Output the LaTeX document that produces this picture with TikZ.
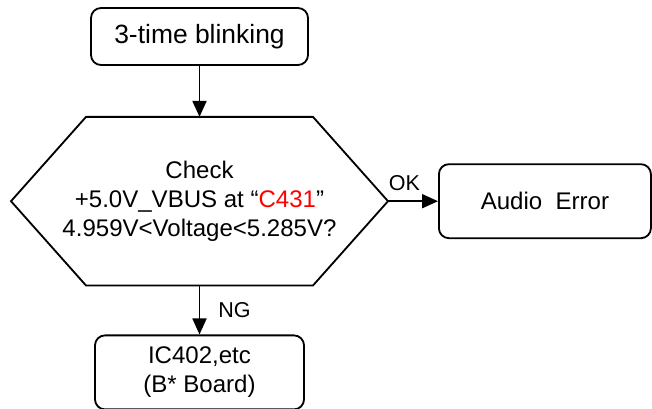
\documentclass[tikz,border=0pt]{standalone}
\usepackage{fontspec}
\setmainfont{Liberation Sans}
\usetikzlibrary{positioning,calc,arrows.meta}
\definecolor{partred}{RGB}{255,0,0}
\tikzset{
    startbox/.style={rectangle, rounded corners=0.25cm, minimum width=5.425cm, minimum height=1.425cm, text centered, draw=black, line width=1.3pt, font=\fontsize{18.8}{22.5}\selectfont},
    endbox/.style={rectangle, rounded corners=0.25cm, minimum height=1.85cm, align=center, draw=black, line width=1.3pt, font=\fontsize{17.1}{20.5}\selectfont},
    checktext/.style={rectangle, minimum height=4.2cm, align=center, inner sep=0pt, font=\fontsize{17.1}{20.5}\selectfont},
    hexline/.style={line width=1.3pt, line join=miter},
    arrow/.style={line width=1.3pt, -{Triangle[length=0.4cm,width=0.35cm]}},
    answer/.style={font=\fontsize{15.3}{18}\selectfont, inner sep=0pt}
}
\begin{document}
\begin{tikzpicture}
\useasboundingbox (0,0) rectangle (16.3,-10.225);

% Start
\node[startbox] (blink) at (4.9875,-0.9125) {3-time blinking};

% Check (hexagon round the text)
\node[checktext, below=1.275cm of blink] (check) {Check\\+5.0V\_VBUS at “\textcolor{partred}{C431}”\\4.959V<Voltage<5.285V?};
\coordinate (chktl) at ($(check.north)+(-2.8375,0)$);
\coordinate (chktr) at ($(check.north)+(2.8375,0)$);
\coordinate (chkbl) at ($(check.south)+(-2.8375,0)$);
\coordinate (chkbr) at ($(check.south)+(2.8375,0)$);
\coordinate (chkleft) at ($(check.center)+(-4.7125,0)$);
\coordinate (chkright) at ($(check.center)+(4.7125,0)$);
\draw[hexline] (chkleft) -- (chktl) -- (chktr) -- (chkright) -- (chkbr) -- (chkbl) -- cycle;

% Results
\node[endbox, minimum width=5.3cm, right=1.25cm of chkright] (audio) {Audio~~Error};
\node[endbox, minimum width=5.225cm, below=1.225cm of check] (board) {IC402,etc\\(B* Board)};

% Flow
\draw[arrow] (blink) -- (check);
\draw[arrow] (chkright) -- node[answer, pos=0, anchor=south west, yshift=0.25cm] (ok) {OK} (audio);
\draw[arrow] (check) -- node[answer, midway, anchor=west, xshift=0.45cm] (ng) {NG} (board);
\end{tikzpicture}
\end{document}
